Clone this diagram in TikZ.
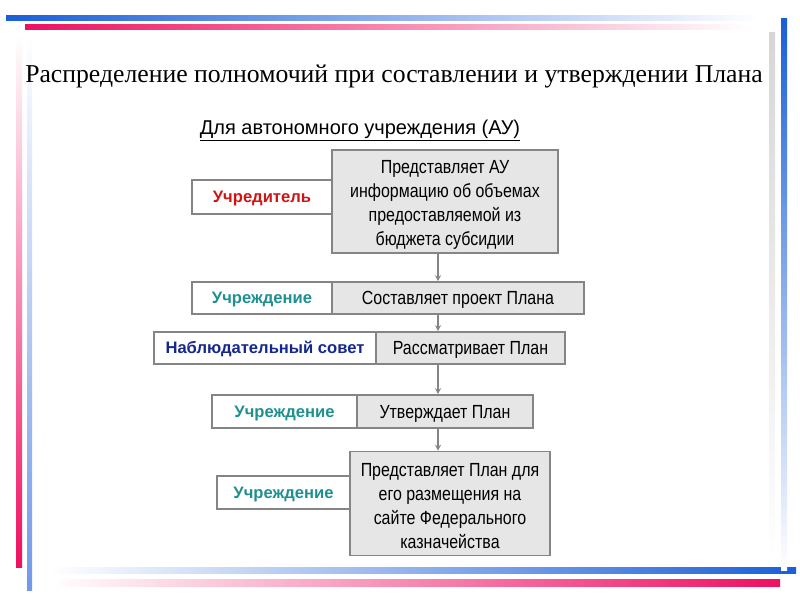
\documentclass[tikz,border=0pt]{standalone}
\usepackage{fontspec}
\setmainfont{Liberation Serif}
\newfontfamily\arialfont{Liberation Sans}
\newfontfamily\narrowfont[FakeStretch=0.84]{Liberation Sans}
\usetikzlibrary{arrows.meta}
\definecolor{barblue}{HTML}{1A5FD8}
\definecolor{barpink}{HTML}{EE1060}
\definecolor{lblue}{HTML}{7099E8}
\definecolor{lgray}{HTML}{D6D6D6}
\definecolor{boxgray}{HTML}{E6E6E6}
\definecolor{edgegray}{HTML}{858585}
\definecolor{redtxt}{HTML}{D01414}
\definecolor{tealtxt}{HTML}{1E9090}
\definecolor{navytxt}{HTML}{16288A}
\tikzset{
  lblbox/.style={draw=edgegray, line width=1.6pt, fill=white, rectangle, inner sep=0pt,
     text height=11.9pt, text depth=0pt,
     font=\arialfont\bfseries\fontsize{16.6}{19}\selectfont},
  multibox/.style={draw=edgegray, line width=1.6pt, fill=boxgray, rectangle, inner sep=0pt,
     align=center, font=\narrowfont\fontsize{19}{24}\selectfont},
  actbox/.style={multibox, text height=13.6pt, text depth=0pt}
  ,
  arr/.style={draw=edgegray, line width=1.3pt, -{Stealth[length=6pt,width=6pt]}}
}
\begin{document}
\begin{tikzpicture}[x=1pt,y=-1pt]
\useasboundingbox (0,0) rectangle (800,600);
% decorative bars
\shade[left color=barblue, right color=white] (6,15) rectangle (760,20);
\shade[left color=barpink, right color=white] (25,24) rectangle (750,29);
\shade[top color=white, bottom color=barpink] (16,35) rectangle (22,567);
\shade[top color=white, bottom color=lblue] (27,35) rectangle (32,590);
\shade[left color=white, right color=barblue] (50,567) rectangle (796,573);
\shade[left color=white, right color=barpink] (50,579) rectangle (780,586);
\shade[top color=barblue, bottom color=white] (781,18) rectangle (787,570);
\shade[top color=lgray, bottom color=white] (769,32) rectangle (775,560);
% title
\node[font=\fontsize{25.7}{30}\selectfont] (title) at (394,76) {Распределение полномочий при составлении и утверждении Плана};
\node[font=\arialfont\fontsize{20}{22}\selectfont] (sub) at (360,130) {\underline{Для автономного учреждения (АУ)}};
% row 1
\node[lblbox, minimum width=140, minimum height=34, text=redtxt] (l1) at (262,197) {Учредитель};
\node[multibox, minimum width=226, minimum height=103] (a1) at (445,201.5) {\rule{0pt}{20.5pt}Представляет АУ\\информацию об объемах\\предоставляемой из\\бюджета субсидии};
% row 2
\node[lblbox, minimum width=140, minimum height=32, text=tealtxt] (l2) at (262,298) {Учреждение};
\node[actbox, minimum width=252, minimum height=32] (a2) at (458,298) {Составляет проект Плана};
% row 3
\node[lblbox, minimum width=222, minimum height=32, text=navytxt] (l3) at (265,348) {Наблюдательный совет};
\node[actbox, minimum width=189, minimum height=32] (a3) at (470.5,348) {Рассматривает План};
% row 4
\node[lblbox, minimum width=145, minimum height=33, text=tealtxt] (l4) at (284.5,411.5) {Учреждение};
\node[actbox, minimum width=176, minimum height=33] (a4) at (445,411.5) {Утверждает План};
% row 5
\node[lblbox, minimum width=133, minimum height=33, text=tealtxt] (l5) at (283.5,492.5) {Учреждение};
\node[multibox, minimum width=200, minimum height=104] (a5) at (450,503.5) {\rule{0pt}{17.6pt}Представляет План для\\его размещения на\\сайте Федерального\\казначейства};
% arrows
\coordinate (ax) at (438,0);
\draw[arr] (a1.south -| ax) -- (a2.north -| ax);
\draw[arr] (a2.south -| ax) -- (a3.north -| ax);
\draw[arr] (a3.south -| ax) -- (a4.north -| ax);
\draw[arr] (a4.south -| ax) -- (a5.north -| ax);
\end{tikzpicture}
\end{document}
